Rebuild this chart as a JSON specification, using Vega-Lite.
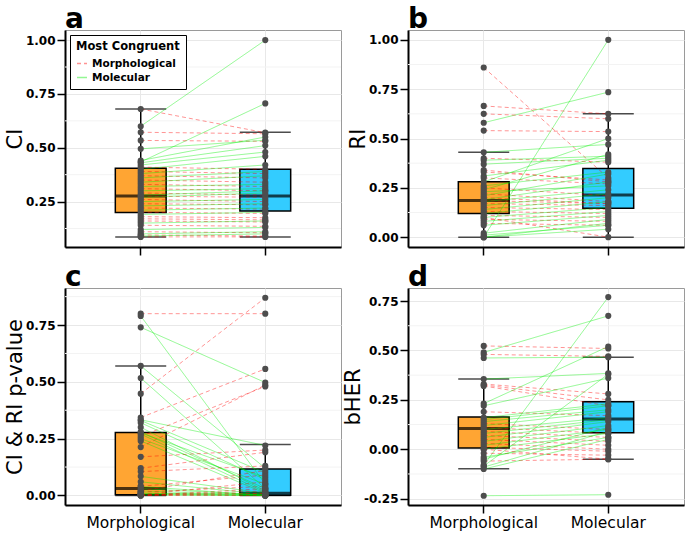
{
"$schema":"https://vega.github.io/schema/vega-lite/v6.json",
"padding":{"left":3,"top":5,"right":0,"bottom":0},
"datasets":{
"grid":[
{"p":"a","v":0.125},{"p":"a","v":0.375},{"p":"a","v":0.625},{"p":"a","v":0.875},
{"p":"b","v":0.125},{"p":"b","v":0.375},{"p":"b","v":0.625},{"p":"b","v":0.875},
{"p":"c","v":0.125},{"p":"c","v":0.375},{"p":"c","v":0.625},{"p":"c","v":0.875},
{"p":"d","v":-0.125},{"p":"d","v":0.125},{"p":"d","v":0.375},{"p":"d","v":0.625}
],
"box":[
{"p":"a","tree":"Morphological","lo":0.086,"q1":0.199,"med":0.276,"q3":0.405,"hi":0.68},
{"p":"a","tree":"Molecular","lo":0.086,"q1":0.206,"med":0.276,"q3":0.400,"hi":0.572},
{"p":"b","tree":"Morphological","lo":0,"q1":0.12,"med":0.186,"q3":0.281,"hi":0.43},
{"p":"b","tree":"Molecular","lo":0,"q1":0.146,"med":0.213,"q3":0.348,"hi":0.625},
{"p":"c","tree":"Morphological","lo":0,"q1":0.003,"med":0.031,"q3":0.277,"hi":0.57},
{"p":"c","tree":"Molecular","lo":0,"q1":0.001,"med":0.01,"q3":0.116,"hi":0.224},
{"p":"d","tree":"Morphological","lo":-0.098,"q1":0.007,"med":0.105,"q3":0.163,"hi":0.355},
{"p":"d","tree":"Molecular","lo":-0.05,"q1":0.083,"med":0.153,"q3":0.24,"hi":0.465}
],
"pairs":[
{"p":"a","i":1,"Morphological":0.60,"Molecular":1.00,"c":"Molecular"},
{"p":"a","i":2,"Morphological":0.434,"Molecular":0.706,"c":"Molecular"},
{"p":"a","i":3,"Morphological":0.68,"Molecular":0.57,"c":"Morphological"},
{"p":"a","i":4,"Morphological":0.572,"Molecular":0.565,"c":"Morphological"},
{"p":"a","i":5,"Morphological":0.534,"Molecular":0.53,"c":"Morphological"},
{"p":"a","i":6,"Morphological":0.495,"Molecular":0.535,"c":"Molecular"},
{"p":"a","i":7,"Morphological":0.441,"Molecular":0.55,"c":"Molecular"},
{"p":"a","i":8,"Morphological":0.43,"Molecular":0.51,"c":"Molecular"},
{"p":"a","i":9,"Morphological":0.42,"Molecular":0.48,"c":"Molecular"},
{"p":"a","i":10,"Morphological":0.41,"Molecular":0.40,"c":"Morphological"},
{"p":"a","i":11,"Morphological":0.40,"Molecular":0.46,"c":"Molecular"},
{"p":"a","i":12,"Morphological":0.39,"Molecular":0.38,"c":"Morphological"},
{"p":"a","i":13,"Morphological":0.38,"Molecular":0.42,"c":"Molecular"},
{"p":"a","i":14,"Morphological":0.37,"Molecular":0.36,"c":"Morphological"},
{"p":"a","i":15,"Morphological":0.36,"Molecular":0.39,"c":"Molecular"},
{"p":"a","i":16,"Morphological":0.35,"Molecular":0.34,"c":"Morphological"},
{"p":"a","i":17,"Morphological":0.34,"Molecular":0.37,"c":"Molecular"},
{"p":"a","i":18,"Morphological":0.33,"Molecular":0.32,"c":"Morphological"},
{"p":"a","i":19,"Morphological":0.32,"Molecular":0.33,"c":"Molecular"},
{"p":"a","i":20,"Morphological":0.31,"Molecular":0.30,"c":"Morphological"},
{"p":"a","i":21,"Morphological":0.30,"Molecular":0.31,"c":"Molecular"},
{"p":"a","i":22,"Morphological":0.29,"Molecular":0.28,"c":"Morphological"},
{"p":"a","i":23,"Morphological":0.28,"Molecular":0.30,"c":"Molecular"},
{"p":"a","i":24,"Morphological":0.275,"Molecular":0.27,"c":"Morphological"},
{"p":"a","i":25,"Morphological":0.27,"Molecular":0.29,"c":"Molecular"},
{"p":"a","i":26,"Morphological":0.26,"Molecular":0.25,"c":"Morphological"},
{"p":"a","i":27,"Morphological":0.25,"Molecular":0.26,"c":"Molecular"},
{"p":"a","i":28,"Morphological":0.24,"Molecular":0.235,"c":"Morphological"},
{"p":"a","i":29,"Morphological":0.23,"Molecular":0.24,"c":"Molecular"},
{"p":"a","i":30,"Morphological":0.22,"Molecular":0.215,"c":"Morphological"},
{"p":"a","i":31,"Morphological":0.21,"Molecular":0.22,"c":"Molecular"},
{"p":"a","i":32,"Morphological":0.20,"Molecular":0.195,"c":"Morphological"},
{"p":"a","i":33,"Morphological":0.19,"Molecular":0.20,"c":"Molecular"},
{"p":"a","i":34,"Morphological":0.18,"Molecular":0.175,"c":"Morphological"},
{"p":"a","i":35,"Morphological":0.17,"Molecular":0.165,"c":"Morphological"},
{"p":"a","i":36,"Morphological":0.16,"Molecular":0.155,"c":"Morphological"},
{"p":"a","i":37,"Morphological":0.15,"Molecular":0.16,"c":"Molecular"},
{"p":"a","i":38,"Morphological":0.14,"Molecular":0.135,"c":"Morphological"},
{"p":"a","i":39,"Morphological":0.12,"Molecular":0.13,"c":"Molecular"},
{"p":"a","i":40,"Morphological":0.11,"Molecular":0.105,"c":"Morphological"},
{"p":"a","i":41,"Morphological":0.10,"Molecular":0.11,"c":"Molecular"},
{"p":"a","i":42,"Morphological":0.095,"Molecular":0.09,"c":"Morphological"},
{"p":"a","i":43,"Morphological":0.09,"Molecular":0.10,"c":"Molecular"},
{"p":"a","i":44,"Morphological":0.086,"Molecular":0.086,"c":"Morphological"},
{"p":"b","i":1,"Morphological":0.00,"Molecular":1.00,"c":"Molecular"},
{"p":"b","i":2,"Morphological":0.86,"Molecular":0.30,"c":"Morphological"},
{"p":"b","i":3,"Morphological":0.58,"Molecular":0.735,"c":"Molecular"},
{"p":"b","i":4,"Morphological":0.665,"Molecular":0.625,"c":"Morphological"},
{"p":"b","i":5,"Morphological":0.625,"Molecular":0.60,"c":"Morphological"},
{"p":"b","i":6,"Morphological":0.54,"Molecular":0.535,"c":"Morphological"},
{"p":"b","i":7,"Morphological":0.43,"Molecular":0.47,"c":"Molecular"},
{"p":"b","i":8,"Morphological":0.40,"Molecular":0.38,"c":"Morphological"},
{"p":"b","i":9,"Morphological":0.39,"Molecular":0.41,"c":"Molecular"},
{"p":"b","i":10,"Morphological":0.37,"Molecular":0.40,"c":"Molecular"},
{"p":"b","i":11,"Morphological":0.34,"Molecular":0.28,"c":"Morphological"},
{"p":"b","i":12,"Morphological":0.33,"Molecular":0.29,"c":"Morphological"},
{"p":"b","i":13,"Morphological":0.31,"Molecular":0.39,"c":"Molecular"},
{"p":"b","i":14,"Morphological":0.30,"Molecular":0.27,"c":"Morphological"},
{"p":"b","i":15,"Morphological":0.28,"Molecular":0.50,"c":"Molecular"},
{"p":"b","i":16,"Morphological":0.26,"Molecular":0.33,"c":"Molecular"},
{"p":"b","i":17,"Morphological":0.25,"Molecular":0.21,"c":"Morphological"},
{"p":"b","i":18,"Morphological":0.24,"Molecular":0.42,"c":"Molecular"},
{"p":"b","i":19,"Morphological":0.23,"Molecular":0.26,"c":"Molecular"},
{"p":"b","i":20,"Morphological":0.22,"Molecular":0.18,"c":"Morphological"},
{"p":"b","i":21,"Morphological":0.21,"Molecular":0.32,"c":"Molecular"},
{"p":"b","i":22,"Morphological":0.20,"Molecular":0.17,"c":"Morphological"},
{"p":"b","i":23,"Morphological":0.19,"Molecular":0.28,"c":"Molecular"},
{"p":"b","i":24,"Morphological":0.185,"Molecular":0.17,"c":"Morphological"},
{"p":"b","i":25,"Morphological":0.18,"Molecular":0.24,"c":"Molecular"},
{"p":"b","i":26,"Morphological":0.17,"Molecular":0.16,"c":"Morphological"},
{"p":"b","i":27,"Morphological":0.16,"Molecular":0.22,"c":"Molecular"},
{"p":"b","i":28,"Morphological":0.15,"Molecular":0.14,"c":"Morphological"},
{"p":"b","i":29,"Morphological":0.14,"Molecular":0.20,"c":"Molecular"},
{"p":"b","i":30,"Morphological":0.13,"Molecular":0.12,"c":"Morphological"},
{"p":"b","i":31,"Morphological":0.12,"Molecular":0.18,"c":"Molecular"},
{"p":"b","i":32,"Morphological":0.11,"Molecular":0.10,"c":"Morphological"},
{"p":"b","i":33,"Morphological":0.10,"Molecular":0.15,"c":"Molecular"},
{"p":"b","i":34,"Morphological":0.09,"Molecular":0.08,"c":"Morphological"},
{"p":"b","i":35,"Morphological":0.08,"Molecular":0.13,"c":"Molecular"},
{"p":"b","i":36,"Morphological":0.07,"Molecular":0.06,"c":"Morphological"},
{"p":"b","i":37,"Morphological":0.06,"Molecular":0.11,"c":"Molecular"},
{"p":"b","i":38,"Morphological":0.02,"Molecular":0.09,"c":"Molecular"},
{"p":"b","i":39,"Morphological":0.01,"Molecular":0.06,"c":"Molecular"},
{"p":"b","i":40,"Morphological":0.10,"Molecular":0.00,"c":"Morphological"},
{"p":"b","i":41,"Morphological":0.00,"Molecular":0.07,"c":"Molecular"},
{"p":"b","i":42,"Morphological":0.00,"Molecular":0.04,"c":"Molecular"},
{"p":"c","i":1,"Morphological":0.80,"Molecular":0.80,"c":"Morphological"},
{"p":"c","i":2,"Morphological":0.79,"Molecular":0.05,"c":"Molecular"},
{"p":"c","i":3,"Morphological":0.74,"Molecular":0.497,"c":"Molecular"},
{"p":"c","i":4,"Morphological":0.57,"Molecular":0.12,"c":"Molecular"},
{"p":"c","i":5,"Morphological":0.517,"Molecular":0.03,"c":"Molecular"},
{"p":"c","i":6,"Morphological":0.448,"Molecular":0.87,"c":"Morphological"},
{"p":"c","i":7,"Morphological":0.343,"Molecular":0.557,"c":"Morphological"},
{"p":"c","i":8,"Morphological":0.333,"Molecular":0.22,"c":"Molecular"},
{"p":"c","i":9,"Morphological":0.33,"Molecular":0.10,"c":"Molecular"},
{"p":"c","i":10,"Morphological":0.30,"Molecular":0.02,"c":"Molecular"},
{"p":"c","i":11,"Morphological":0.275,"Molecular":0.08,"c":"Molecular"},
{"p":"c","i":12,"Morphological":0.26,"Molecular":0.48,"c":"Morphological"},
{"p":"c","i":13,"Morphological":0.25,"Molecular":0.05,"c":"Molecular"},
{"p":"c","i":14,"Morphological":0.24,"Molecular":0.01,"c":"Molecular"},
{"p":"c","i":15,"Morphological":0.213,"Molecular":0.486,"c":"Morphological"},
{"p":"c","i":16,"Morphological":0.17,"Molecular":0.20,"c":"Morphological"},
{"p":"c","i":17,"Morphological":0.12,"Molecular":0.19,"c":"Morphological"},
{"p":"c","i":18,"Morphological":0.105,"Molecular":0.13,"c":"Morphological"},
{"p":"c","i":19,"Morphological":0.084,"Molecular":0.01,"c":"Molecular"},
{"p":"c","i":20,"Morphological":0.06,"Molecular":0.005,"c":"Molecular"},
{"p":"c","i":21,"Morphological":0.04,"Molecular":0.09,"c":"Morphological"},
{"p":"c","i":22,"Morphological":0.03,"Molecular":0.002,"c":"Molecular"},
{"p":"c","i":23,"Morphological":0.02,"Molecular":0.0,"c":"Molecular"},
{"p":"c","i":24,"Morphological":0.015,"Molecular":0.04,"c":"Morphological"},
{"p":"c","i":25,"Morphological":0.01,"Molecular":0.0,"c":"Molecular"},
{"p":"c","i":26,"Morphological":0.005,"Molecular":0.0,"c":"Molecular"},
{"p":"c","i":27,"Morphological":0.003,"Molecular":0.06,"c":"Morphological"},
{"p":"c","i":28,"Morphological":0.002,"Molecular":0.0,"c":"Molecular"},
{"p":"c","i":29,"Morphological":0.001,"Molecular":0.02,"c":"Morphological"},
{"p":"c","i":30,"Morphological":0.0,"Molecular":0.0,"c":"Morphological"},
{"p":"c","i":31,"Morphological":0.0,"Molecular":0.01,"c":"Morphological"},
{"p":"c","i":32,"Morphological":0.01,"Molecular":0.005,"c":"Molecular"},
{"p":"c","i":33,"Morphological":0.02,"Molecular":0.11,"c":"Morphological"},
{"p":"c","i":34,"Morphological":0.27,"Molecular":0.015,"c":"Molecular"},
{"p":"c","i":35,"Morphological":0.28,"Molecular":0.03,"c":"Molecular"},
{"p":"c","i":36,"Morphological":0.32,"Molecular":0.07,"c":"Molecular"},
{"p":"c","i":37,"Morphological":0.0,"Molecular":0.03,"c":"Morphological"},
{"p":"c","i":38,"Morphological":0.005,"Molecular":0.008,"c":"Morphological"},
{"p":"c","i":39,"Morphological":0.04,"Molecular":0.0,"c":"Molecular"},
{"p":"d","i":1,"Morphological":-0.235,"Molecular":-0.23,"c":"Molecular"},
{"p":"d","i":2,"Morphological":-0.08,"Molecular":0.77,"c":"Molecular"},
{"p":"d","i":3,"Morphological":0.49,"Molecular":0.675,"c":"Molecular"},
{"p":"d","i":4,"Morphological":0.523,"Molecular":0.51,"c":"Morphological"},
{"p":"d","i":5,"Morphological":0.48,"Molecular":0.47,"c":"Morphological"},
{"p":"d","i":6,"Morphological":0.462,"Molecular":0.466,"c":"Molecular"},
{"p":"d","i":7,"Morphological":0.355,"Molecular":0.384,"c":"Molecular"},
{"p":"d","i":8,"Morphological":0.33,"Molecular":0.28,"c":"Morphological"},
{"p":"d","i":9,"Morphological":0.325,"Molecular":0.25,"c":"Morphological"},
{"p":"d","i":10,"Morphological":0.32,"Molecular":0.22,"c":"Morphological"},
{"p":"d","i":11,"Morphological":0.231,"Molecular":0.52,"c":"Molecular"},
{"p":"d","i":12,"Morphological":0.22,"Molecular":0.36,"c":"Molecular"},
{"p":"d","i":13,"Morphological":0.19,"Molecular":0.17,"c":"Morphological"},
{"p":"d","i":14,"Morphological":0.16,"Molecular":0.23,"c":"Molecular"},
{"p":"d","i":15,"Morphological":0.15,"Molecular":0.22,"c":"Molecular"},
{"p":"d","i":16,"Morphological":0.14,"Molecular":0.20,"c":"Molecular"},
{"p":"d","i":17,"Morphological":0.13,"Molecular":0.10,"c":"Morphological"},
{"p":"d","i":18,"Morphological":0.12,"Molecular":0.19,"c":"Molecular"},
{"p":"d","i":19,"Morphological":0.11,"Molecular":0.08,"c":"Morphological"},
{"p":"d","i":20,"Morphological":0.10,"Molecular":0.16,"c":"Molecular"},
{"p":"d","i":21,"Morphological":0.09,"Molecular":0.06,"c":"Morphological"},
{"p":"d","i":22,"Morphological":0.08,"Molecular":0.15,"c":"Molecular"},
{"p":"d","i":23,"Morphological":0.07,"Molecular":0.04,"c":"Morphological"},
{"p":"d","i":24,"Morphological":0.06,"Molecular":0.14,"c":"Molecular"},
{"p":"d","i":25,"Morphological":0.05,"Molecular":0.02,"c":"Morphological"},
{"p":"d","i":26,"Morphological":0.04,"Molecular":0.12,"c":"Molecular"},
{"p":"d","i":27,"Morphological":0.03,"Molecular":0.0,"c":"Morphological"},
{"p":"d","i":28,"Morphological":0.02,"Molecular":0.10,"c":"Molecular"},
{"p":"d","i":29,"Morphological":0.01,"Molecular":-0.01,"c":"Morphological"},
{"p":"d","i":30,"Morphological":0.0,"Molecular":0.08,"c":"Molecular"},
{"p":"d","i":31,"Morphological":-0.02,"Molecular":-0.03,"c":"Morphological"},
{"p":"d","i":32,"Morphological":-0.04,"Molecular":0.06,"c":"Molecular"},
{"p":"d","i":33,"Morphological":-0.06,"Molecular":-0.05,"c":"Morphological"},
{"p":"d","i":34,"Morphological":-0.085,"Molecular":0.38,"c":"Molecular"},
{"p":"d","i":35,"Morphological":-0.09,"Molecular":0.09,"c":"Molecular"},
{"p":"d","i":36,"Morphological":-0.10,"Molecular":0.05,"c":"Molecular"},
{"p":"d","i":37,"Morphological":-0.05,"Molecular":0.11,"c":"Molecular"},
{"p":"d","i":38,"Morphological":0.0,"Molecular":-0.05,"c":"Morphological"}
]
},
"columns":2,
"bounds":"flush",
"spacing":{"row":41,"column":67},
"resolve":{"scale":{"color":"independent","strokeDash":"independent"},"legend":{"color":"independent","strokeDash":"independent"}},
"concat":[
{
"width":276,"height":217,"title":{"text":"a"},
"layer":[
{"data":{"name":"grid"},"transform":[{"filter":"datum.p=='a'"}],"mark":{"type":"rule","color":"#f3f3f3","strokeWidth":1},"encoding":{"y":{"field":"v","type":"quantitative","title":"CI","scale":{"domain":[0.039,1.047],"nice":false,"zero":false},"axis":{"values":[0.25,0.5,0.75,1],"labels":true}}}},
{"data":{"name":"box"},"transform":[{"filter":"datum.p=='a'"}],
"encoding":{"x":{"field":"tree","type":"nominal","title":null,"scale":{"type":"band","domain":["Morphological","Molecular"],"paddingInner":0.592,"paddingOuter":0.404},"axis":{"labels":false}}},
"layer":[
{"mark":{"type":"rule","color":"black","strokeWidth":1.5},"encoding":{"y":{"field":"lo","type":"quantitative","title":"CI","scale":{"domain":[0.039,1.047],"nice":false,"zero":false}},"y2":{"field":"hi"}}},
{"mark":{"type":"bar","stroke":"black","strokeWidth":1.5},"encoding":{"y":{"field":"q1","type":"quantitative","title":"CI","scale":{"domain":[0.039,1.047],"nice":false,"zero":false}},"y2":{"field":"q3"},"fill":{"field":"tree","type":"nominal","scale":{"domain":["Morphological","Molecular"],"range":["#FFA533","#33CCFF"]},"legend":null}}},
{"mark":{"type":"tick","color":"black","thickness":3,"size":51,"orient":"horizontal"},"encoding":{"y":{"field":"med","type":"quantitative","title":"CI","scale":{"domain":[0.039,1.047],"nice":false,"zero":false}}}},
{"mark":{"type":"tick","color":"black","thickness":1.5,"size":51,"orient":"horizontal"},"encoding":{"y":{"field":"lo","type":"quantitative","title":"CI","scale":{"domain":[0.039,1.047],"nice":false,"zero":false}}}},
{"mark":{"type":"tick","color":"black","thickness":1.5,"size":51,"orient":"horizontal"},"encoding":{"y":{"field":"hi","type":"quantitative","title":"CI","scale":{"domain":[0.039,1.047],"nice":false,"zero":false}}}}
]},
{"data":{"name":"pairs"},"transform":[{"filter":"datum.p=='a'"},{"fold":["Morphological","Molecular"],"as":["tree","v"]}],
"encoding":{"x":{"field":"tree","type":"nominal","title":null,"scale":{"type":"band","domain":["Morphological","Molecular"],"paddingInner":0.592,"paddingOuter":0.404},"axis":{"labels":false}},"y":{"field":"v","type":"quantitative","title":"CI","scale":{"domain":[0.039,1.047],"nice":false,"zero":false}}},
"layer":[
{"mark":{"type":"line","strokeWidth":1,"opacity":0.42},"encoding":{"detail":{"field":"i","type":"nominal"},"color":{"field":"c","type":"nominal","title":"Most Congruent","scale":{"domain":["Morphological","Molecular"],"range":["#ff0000","#00ee00"]},"legend":{"orient":"top-left","symbolStrokeWidth":1.5}},"strokeDash":{"field":"c","type":"nominal","title":"Most Congruent","scale":{"domain":["Morphological","Molecular"],"range":[[4,3],[1,0]]},"legend":{"orient":"top-left","symbolStrokeWidth":1.5}}}},
{"mark":{"type":"circle","color":"#4d4d4d","size":38,"opacity":1}}
]}
]
},
{
"width":276,"height":217,"title":{"text":"b"},
"layer":[
{"data":{"name":"grid"},"transform":[{"filter":"datum.p=='b'"}],"mark":{"type":"rule","color":"#f3f3f3","strokeWidth":1},"encoding":{"y":{"field":"v","type":"quantitative","title":"RI","scale":{"domain":[-0.05,1.05],"nice":false,"zero":false},"axis":{"values":[0,0.25,0.5,0.75,1],"labels":true}}}},
{"data":{"name":"box"},"transform":[{"filter":"datum.p=='b'"}],
"encoding":{"x":{"field":"tree","type":"nominal","title":null,"scale":{"type":"band","domain":["Morphological","Molecular"],"paddingInner":0.592,"paddingOuter":0.404},"axis":{"labels":false}}},
"layer":[
{"mark":{"type":"rule","color":"black","strokeWidth":1.5},"encoding":{"y":{"field":"lo","type":"quantitative","title":"RI","scale":{"domain":[-0.05,1.05],"nice":false,"zero":false}},"y2":{"field":"hi"}}},
{"mark":{"type":"bar","stroke":"black","strokeWidth":1.5},"encoding":{"y":{"field":"q1","type":"quantitative","title":"RI","scale":{"domain":[-0.05,1.05],"nice":false,"zero":false}},"y2":{"field":"q3"},"fill":{"field":"tree","type":"nominal","scale":{"domain":["Morphological","Molecular"],"range":["#FFA533","#33CCFF"]},"legend":null}}},
{"mark":{"type":"tick","color":"black","thickness":3,"size":51,"orient":"horizontal"},"encoding":{"y":{"field":"med","type":"quantitative","title":"RI","scale":{"domain":[-0.05,1.05],"nice":false,"zero":false}}}},
{"mark":{"type":"tick","color":"black","thickness":1.5,"size":51,"orient":"horizontal"},"encoding":{"y":{"field":"lo","type":"quantitative","title":"RI","scale":{"domain":[-0.05,1.05],"nice":false,"zero":false}}}},
{"mark":{"type":"tick","color":"black","thickness":1.5,"size":51,"orient":"horizontal"},"encoding":{"y":{"field":"hi","type":"quantitative","title":"RI","scale":{"domain":[-0.05,1.05],"nice":false,"zero":false}}}}
]},
{"data":{"name":"pairs"},"transform":[{"filter":"datum.p=='b'"},{"fold":["Morphological","Molecular"],"as":["tree","v"]}],
"encoding":{"x":{"field":"tree","type":"nominal","title":null,"scale":{"type":"band","domain":["Morphological","Molecular"],"paddingInner":0.592,"paddingOuter":0.404},"axis":{"labels":false}},"y":{"field":"v","type":"quantitative","title":"RI","scale":{"domain":[-0.05,1.05],"nice":false,"zero":false}}},
"layer":[
{"mark":{"type":"line","strokeWidth":1,"opacity":0.42},"encoding":{"detail":{"field":"i","type":"nominal"},"color":{"field":"c","type":"nominal","legend":null,"scale":{"domain":["Morphological","Molecular"],"range":["#ff0000","#00ee00"]}},"strokeDash":{"field":"c","type":"nominal","legend":null,"scale":{"domain":["Morphological","Molecular"],"range":[[4,3],[1,0]]}}}},
{"mark":{"type":"circle","color":"#4d4d4d","size":38,"opacity":1}}
]}
]
},
{
"width":276,"height":217,"title":{"text":"c"},
"layer":[
{"data":{"name":"grid"},"transform":[{"filter":"datum.p=='c'"}],"mark":{"type":"rule","color":"#f3f3f3","strokeWidth":1},"encoding":{"y":{"field":"v","type":"quantitative","title":"CI & RI p-value","scale":{"domain":[-0.042,0.913],"nice":false,"zero":false},"axis":{"values":[0,0.25,0.5,0.75],"labels":true}}}},
{"data":{"name":"box"},"transform":[{"filter":"datum.p=='c'"}],
"encoding":{"x":{"field":"tree","type":"nominal","title":null,"scale":{"type":"band","domain":["Morphological","Molecular"],"paddingInner":0.592,"paddingOuter":0.404}}},
"layer":[
{"mark":{"type":"rule","color":"black","strokeWidth":1.5},"encoding":{"y":{"field":"lo","type":"quantitative","title":"CI & RI p-value","scale":{"domain":[-0.042,0.913],"nice":false,"zero":false}},"y2":{"field":"hi"}}},
{"mark":{"type":"bar","stroke":"black","strokeWidth":1.5},"encoding":{"y":{"field":"q1","type":"quantitative","title":"CI & RI p-value","scale":{"domain":[-0.042,0.913],"nice":false,"zero":false}},"y2":{"field":"q3"},"fill":{"field":"tree","type":"nominal","scale":{"domain":["Morphological","Molecular"],"range":["#FFA533","#33CCFF"]},"legend":null}}},
{"mark":{"type":"tick","color":"black","thickness":3,"size":51,"orient":"horizontal"},"encoding":{"y":{"field":"med","type":"quantitative","title":"CI & RI p-value","scale":{"domain":[-0.042,0.913],"nice":false,"zero":false}}}},
{"mark":{"type":"tick","color":"black","thickness":1.5,"size":51,"orient":"horizontal"},"encoding":{"y":{"field":"lo","type":"quantitative","title":"CI & RI p-value","scale":{"domain":[-0.042,0.913],"nice":false,"zero":false}}}},
{"mark":{"type":"tick","color":"black","thickness":1.5,"size":51,"orient":"horizontal"},"encoding":{"y":{"field":"hi","type":"quantitative","title":"CI & RI p-value","scale":{"domain":[-0.042,0.913],"nice":false,"zero":false}}}}
]},
{"data":{"name":"pairs"},"transform":[{"filter":"datum.p=='c'"},{"fold":["Morphological","Molecular"],"as":["tree","v"]}],
"encoding":{"x":{"field":"tree","type":"nominal","title":null,"scale":{"type":"band","domain":["Morphological","Molecular"],"paddingInner":0.592,"paddingOuter":0.404}},"y":{"field":"v","type":"quantitative","title":"CI & RI p-value","scale":{"domain":[-0.042,0.913],"nice":false,"zero":false}}},
"layer":[
{"mark":{"type":"line","strokeWidth":1,"opacity":0.42},"encoding":{"detail":{"field":"i","type":"nominal"},"color":{"field":"c","type":"nominal","legend":null,"scale":{"domain":["Morphological","Molecular"],"range":["#ff0000","#00ee00"]}},"strokeDash":{"field":"c","type":"nominal","legend":null,"scale":{"domain":["Morphological","Molecular"],"range":[[4,3],[1,0]]}}}},
{"mark":{"type":"circle","color":"#4d4d4d","size":38,"opacity":1}}
]}
]
},
{
"width":276,"height":217,"title":{"text":"d"},
"layer":[
{"data":{"name":"grid"},"transform":[{"filter":"datum.p=='d'"}],"mark":{"type":"rule","color":"#f3f3f3","strokeWidth":1},"encoding":{"y":{"field":"v","type":"quantitative","title":"bHER","scale":{"domain":[-0.282,0.816],"nice":false,"zero":false},"axis":{"values":[-0.25,0,0.25,0.5,0.75],"labels":true}}}},
{"data":{"name":"box"},"transform":[{"filter":"datum.p=='d'"}],
"encoding":{"x":{"field":"tree","type":"nominal","title":null,"scale":{"type":"band","domain":["Morphological","Molecular"],"paddingInner":0.592,"paddingOuter":0.404}}},
"layer":[
{"mark":{"type":"rule","color":"black","strokeWidth":1.5},"encoding":{"y":{"field":"lo","type":"quantitative","title":"bHER","scale":{"domain":[-0.282,0.816],"nice":false,"zero":false}},"y2":{"field":"hi"}}},
{"mark":{"type":"bar","stroke":"black","strokeWidth":1.5},"encoding":{"y":{"field":"q1","type":"quantitative","title":"bHER","scale":{"domain":[-0.282,0.816],"nice":false,"zero":false}},"y2":{"field":"q3"},"fill":{"field":"tree","type":"nominal","scale":{"domain":["Morphological","Molecular"],"range":["#FFA533","#33CCFF"]},"legend":null}}},
{"mark":{"type":"tick","color":"black","thickness":3,"size":51,"orient":"horizontal"},"encoding":{"y":{"field":"med","type":"quantitative","title":"bHER","scale":{"domain":[-0.282,0.816],"nice":false,"zero":false}}}},
{"mark":{"type":"tick","color":"black","thickness":1.5,"size":51,"orient":"horizontal"},"encoding":{"y":{"field":"lo","type":"quantitative","title":"bHER","scale":{"domain":[-0.282,0.816],"nice":false,"zero":false}}}},
{"mark":{"type":"tick","color":"black","thickness":1.5,"size":51,"orient":"horizontal"},"encoding":{"y":{"field":"hi","type":"quantitative","title":"bHER","scale":{"domain":[-0.282,0.816],"nice":false,"zero":false}}}}
]},
{"data":{"name":"pairs"},"transform":[{"filter":"datum.p=='d'"},{"fold":["Morphological","Molecular"],"as":["tree","v"]}],
"encoding":{"x":{"field":"tree","type":"nominal","title":null,"scale":{"type":"band","domain":["Morphological","Molecular"],"paddingInner":0.592,"paddingOuter":0.404}},"y":{"field":"v","type":"quantitative","title":"bHER","scale":{"domain":[-0.282,0.816],"nice":false,"zero":false}}},
"layer":[
{"mark":{"type":"line","strokeWidth":1,"opacity":0.42},"encoding":{"detail":{"field":"i","type":"nominal"},"color":{"field":"c","type":"nominal","legend":null,"scale":{"domain":["Morphological","Molecular"],"range":["#ff0000","#00ee00"]}},"strokeDash":{"field":"c","type":"nominal","legend":null,"scale":{"domain":["Morphological","Molecular"],"range":[[4,3],[1,0]]}}}},
{"mark":{"type":"circle","color":"#4d4d4d","size":38,"opacity":1}}
]}
]
}
],
"config":{
"font":"DejaVu Sans",
"view":{"stroke":"#9a9a9a","strokeWidth":1},
"axis":{"domainColor":"black","domainWidth":2,"tickColor":"black","tickWidth":1.5,"tickSize":8,"grid":true,"gridColor":"#e8e8e8","gridWidth":1,"labelColor":"black","titleColor":"black"},
"axisY":{"labelFontSize":12,"labelFontWeight":"bold","labelPadding":2,"titleFontSize":21,"titleFontWeight":"normal","titlePadding":0,
"labelExpr":"datum.value < 0 ? '-' + format(-datum.value, '.2f') : format(datum.value, '.2f')"},
"axisX":{"labelFontSize":15.5,"labelFontWeight":"normal","labelPadding":2,"bandPosition":0.5,"labelAngle":0},
"title":{"fontSize":28,"fontWeight":"bold","anchor":"start","frame":"group","baseline":"alphabetic","offset":-4,"color":"black"},
"legend":{"offset":5,"padding":6,"strokeColor":"black","fillColor":"white","titleFontSize":11.5,"titleFontWeight":"bold","titleColor":"black","labelFontSize":10.5,"labelFontWeight":"bold","labelColor":"black"}
}
}
